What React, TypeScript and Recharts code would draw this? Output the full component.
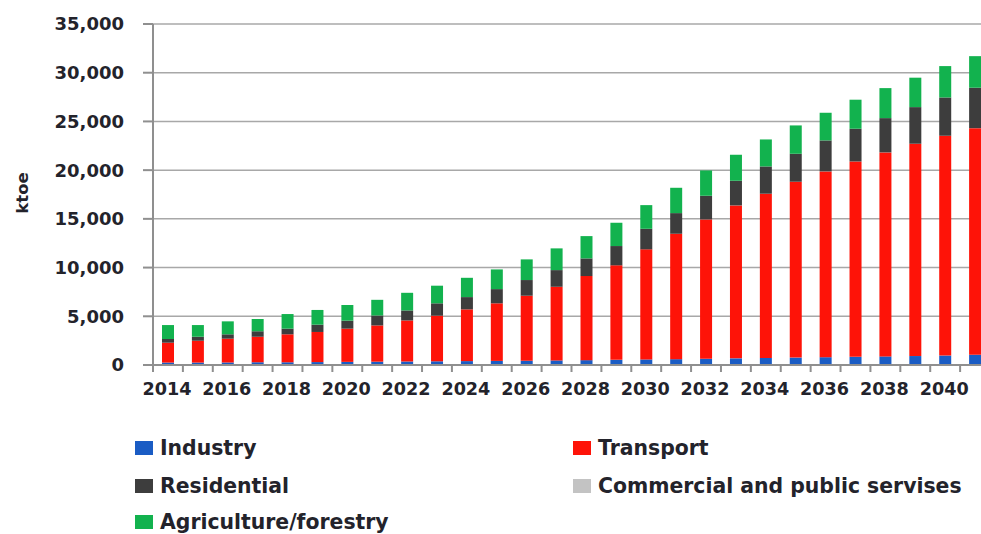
import React from 'react';
import { BarChart, Bar, XAxis, YAxis, CartesianGrid, Legend } from 'recharts';

const years = [
  '2014', '2015', '2016', '2017', '2018', '2019', '2020', '2021', '2022', '2023',
  '2024', '2025', '2026', '2027', '2028', '2029', '2030', '2031', '2032', '2033',
  '2034', '2035', '2036', '2037', '2038', '2039', '2040', '2041',
];
const industry = [
  250, 250, 260, 270, 280, 300, 320, 340, 360, 380,
  400, 420, 440, 470, 500, 530, 570, 600, 640, 680,
  720, 760, 800, 840, 880, 920, 970, 1050,
];
const transport = [
  2040, 2240, 2440, 2630, 2870, 3090, 3410, 3720, 4210, 4680,
  5310, 5910, 6670, 7560, 8630, 9700, 11300, 12870, 14300, 15700,
  16860, 18050, 19070, 20050, 20940, 21790, 22560, 23260,
];
const residential = [
  380, 410, 450, 560, 580, 750, 820, 1020, 1030, 1270,
  1260, 1460, 1610, 1710, 1810, 1980, 2110, 2120, 2430, 2530,
  2800, 2870, 3180, 3360, 3520, 3760, 3930, 4150,
];
const commercial = [
  0, 0, 0, 0, 0, 0, 0, 0, 0, 0,
  0, 0, 0, 0, 0, 0, 0, 0, 0, 0,
  0, 0, 0, 0, 0, 0, 0, 0,
];
const agriculture = [
  1430, 1200, 1330, 1260, 1500, 1510, 1610, 1610, 1810, 1810,
  1980, 2020, 2120, 2230, 2290, 2390, 2430, 2600, 2600, 2670,
  2770, 2910, 2840, 2980, 3080, 3020, 3220, 3240,
];
const yTicks = [0, 5000, 10000, 15000, 20000, 25000, 30000, 35000];

const seriesNames = {
  industry: 'Industry',
  transport: 'Transport',
  residential: 'Residential',
  commercial: 'Commercial and public servises',
  agriculture: 'Agriculture/forestry',
};
const colors = {
  industry: '#1a5cc4',
  transport: '#fe1308',
  residential: '#3d3d3d',
  commercial: '#c3c3c3',
  agriculture: '#12b24e',
};

const data = years.map((y, i) => ({
  year: y,
  industry: industry[i],
  transport: transport[i],
  residential: residential[i],
  commercial: commercial[i],
  agriculture: agriculture[i],
}));

const CHART_W = 1000;
const Y_AXIS_W = 153;
const MARGIN_R = 10;
const BAND = (CHART_W - Y_AXIS_W - MARGIN_R) / years.length;
const FONT = '"DejaVu Sans", sans-serif';
const TEXT = '#23232b';
const AXIS = '#8f8f8f';

const XTick = (props: any) => {
  const { x, y, payload, index } = props;
  const half = payload && payload.offset ? payload.offset : BAND / 2;
  const lx = x - half;
  return (
    <g>
      <line x1={lx} y1={y} x2={lx} y2={y + 7} stroke={AXIS} strokeWidth={2} />
      {index % 2 === 0 ? (
        <text x={x - 1} y={y + 30} textAnchor="middle" fontFamily={FONT} fontWeight="bold" fontSize={17.6} fill={TEXT}>
          {payload.value}
        </text>
      ) : null}
    </g>
  );
};

const LegendContent = () => {
  const items: [keyof typeof colors, number, number][] = [
    ['industry', 135, 43],
    ['transport', 573, 43],
    ['residential', 135, 81],
    ['commercial', 573, 81],
    ['agriculture', 135, 117],
  ];
  return (
    <div style={{ position: 'relative', width: 981, height: 129 }}>
      {items.map(([k, left, cy]) => (
        <div
          key={k}
          style={{
            position: 'absolute',
            left,
            top: cy - 14,
            height: 28,
            display: 'flex',
            alignItems: 'center',
            whiteSpace: 'nowrap',
          }}
        >
          <span style={{ display: 'inline-block', width: 18, height: 14, background: colors[k], marginRight: 7 }} />
          <span style={{ fontFamily: FONT, fontWeight: 'bold', fontSize: 20.4, color: TEXT, lineHeight: '28px' }}>
            {seriesNames[k]}
          </span>
        </div>
      ))}
    </div>
  );
};

export default function App() {
  return (
    <div style={{ position: 'fixed', left: 0, top: 0, width: 981, height: 534, overflow: 'hidden', background: '#fff' }}>
      <BarChart
        width={CHART_W}
        height={534}
        data={data}
        margin={{ top: 24, right: MARGIN_R, left: 0, bottom: 0 }}
        barSize={12}
      >
        <CartesianGrid vertical={false} stroke="#a8a8a8" strokeWidth={1.5} />
        <XAxis
          dataKey="year"
          interval={0}
          height={40}
          tickSize={0}
          tickMargin={0}
          tickLine={false}
          axisLine={{ stroke: AXIS, strokeWidth: 2 }}
          tick={<XTick />}
        />
        <YAxis
          width={Y_AXIS_W}
          domain={[0, 35000]}
          ticks={yTicks}
          interval={0}
          tickSize={10}
          tickMargin={19}
          axisLine={{ stroke: AXIS, strokeWidth: 2 }}
          tickLine={{ stroke: AXIS, strokeWidth: 2 }}
          tick={{ fontFamily: FONT, fontWeight: 'bold', fontSize: 18, fill: TEXT }}
          tickFormatter={(v: number) => v.toLocaleString('en-US')}
          label={{
            content: () => (
              <text
                transform="translate(22,193) rotate(-90)"
                textAnchor="middle"
                dominantBaseline="central"
                fontFamily={FONT}
                fontWeight="bold"
                fontSize={16.5}
                fill={TEXT}
              >
                ktoe
              </text>
            ),
          }}
        />
        <Legend verticalAlign="bottom" align="left" content={<LegendContent />} wrapperStyle={{ left: 0, width: 981, height: 129 }} />
        <Bar dataKey="industry" name={seriesNames.industry} stackId="a" fill={colors.industry} isAnimationActive={false} />
        <Bar dataKey="transport" name={seriesNames.transport} stackId="a" fill={colors.transport} isAnimationActive={false} />
        <Bar dataKey="residential" name={seriesNames.residential} stackId="a" fill={colors.residential} isAnimationActive={false} />
        <Bar dataKey="commercial" name={seriesNames.commercial} stackId="a" fill={colors.commercial} isAnimationActive={false} />
        <Bar dataKey="agriculture" name={seriesNames.agriculture} stackId="a" fill={colors.agriculture} isAnimationActive={false} />
      </BarChart>
    </div>
  );
}
